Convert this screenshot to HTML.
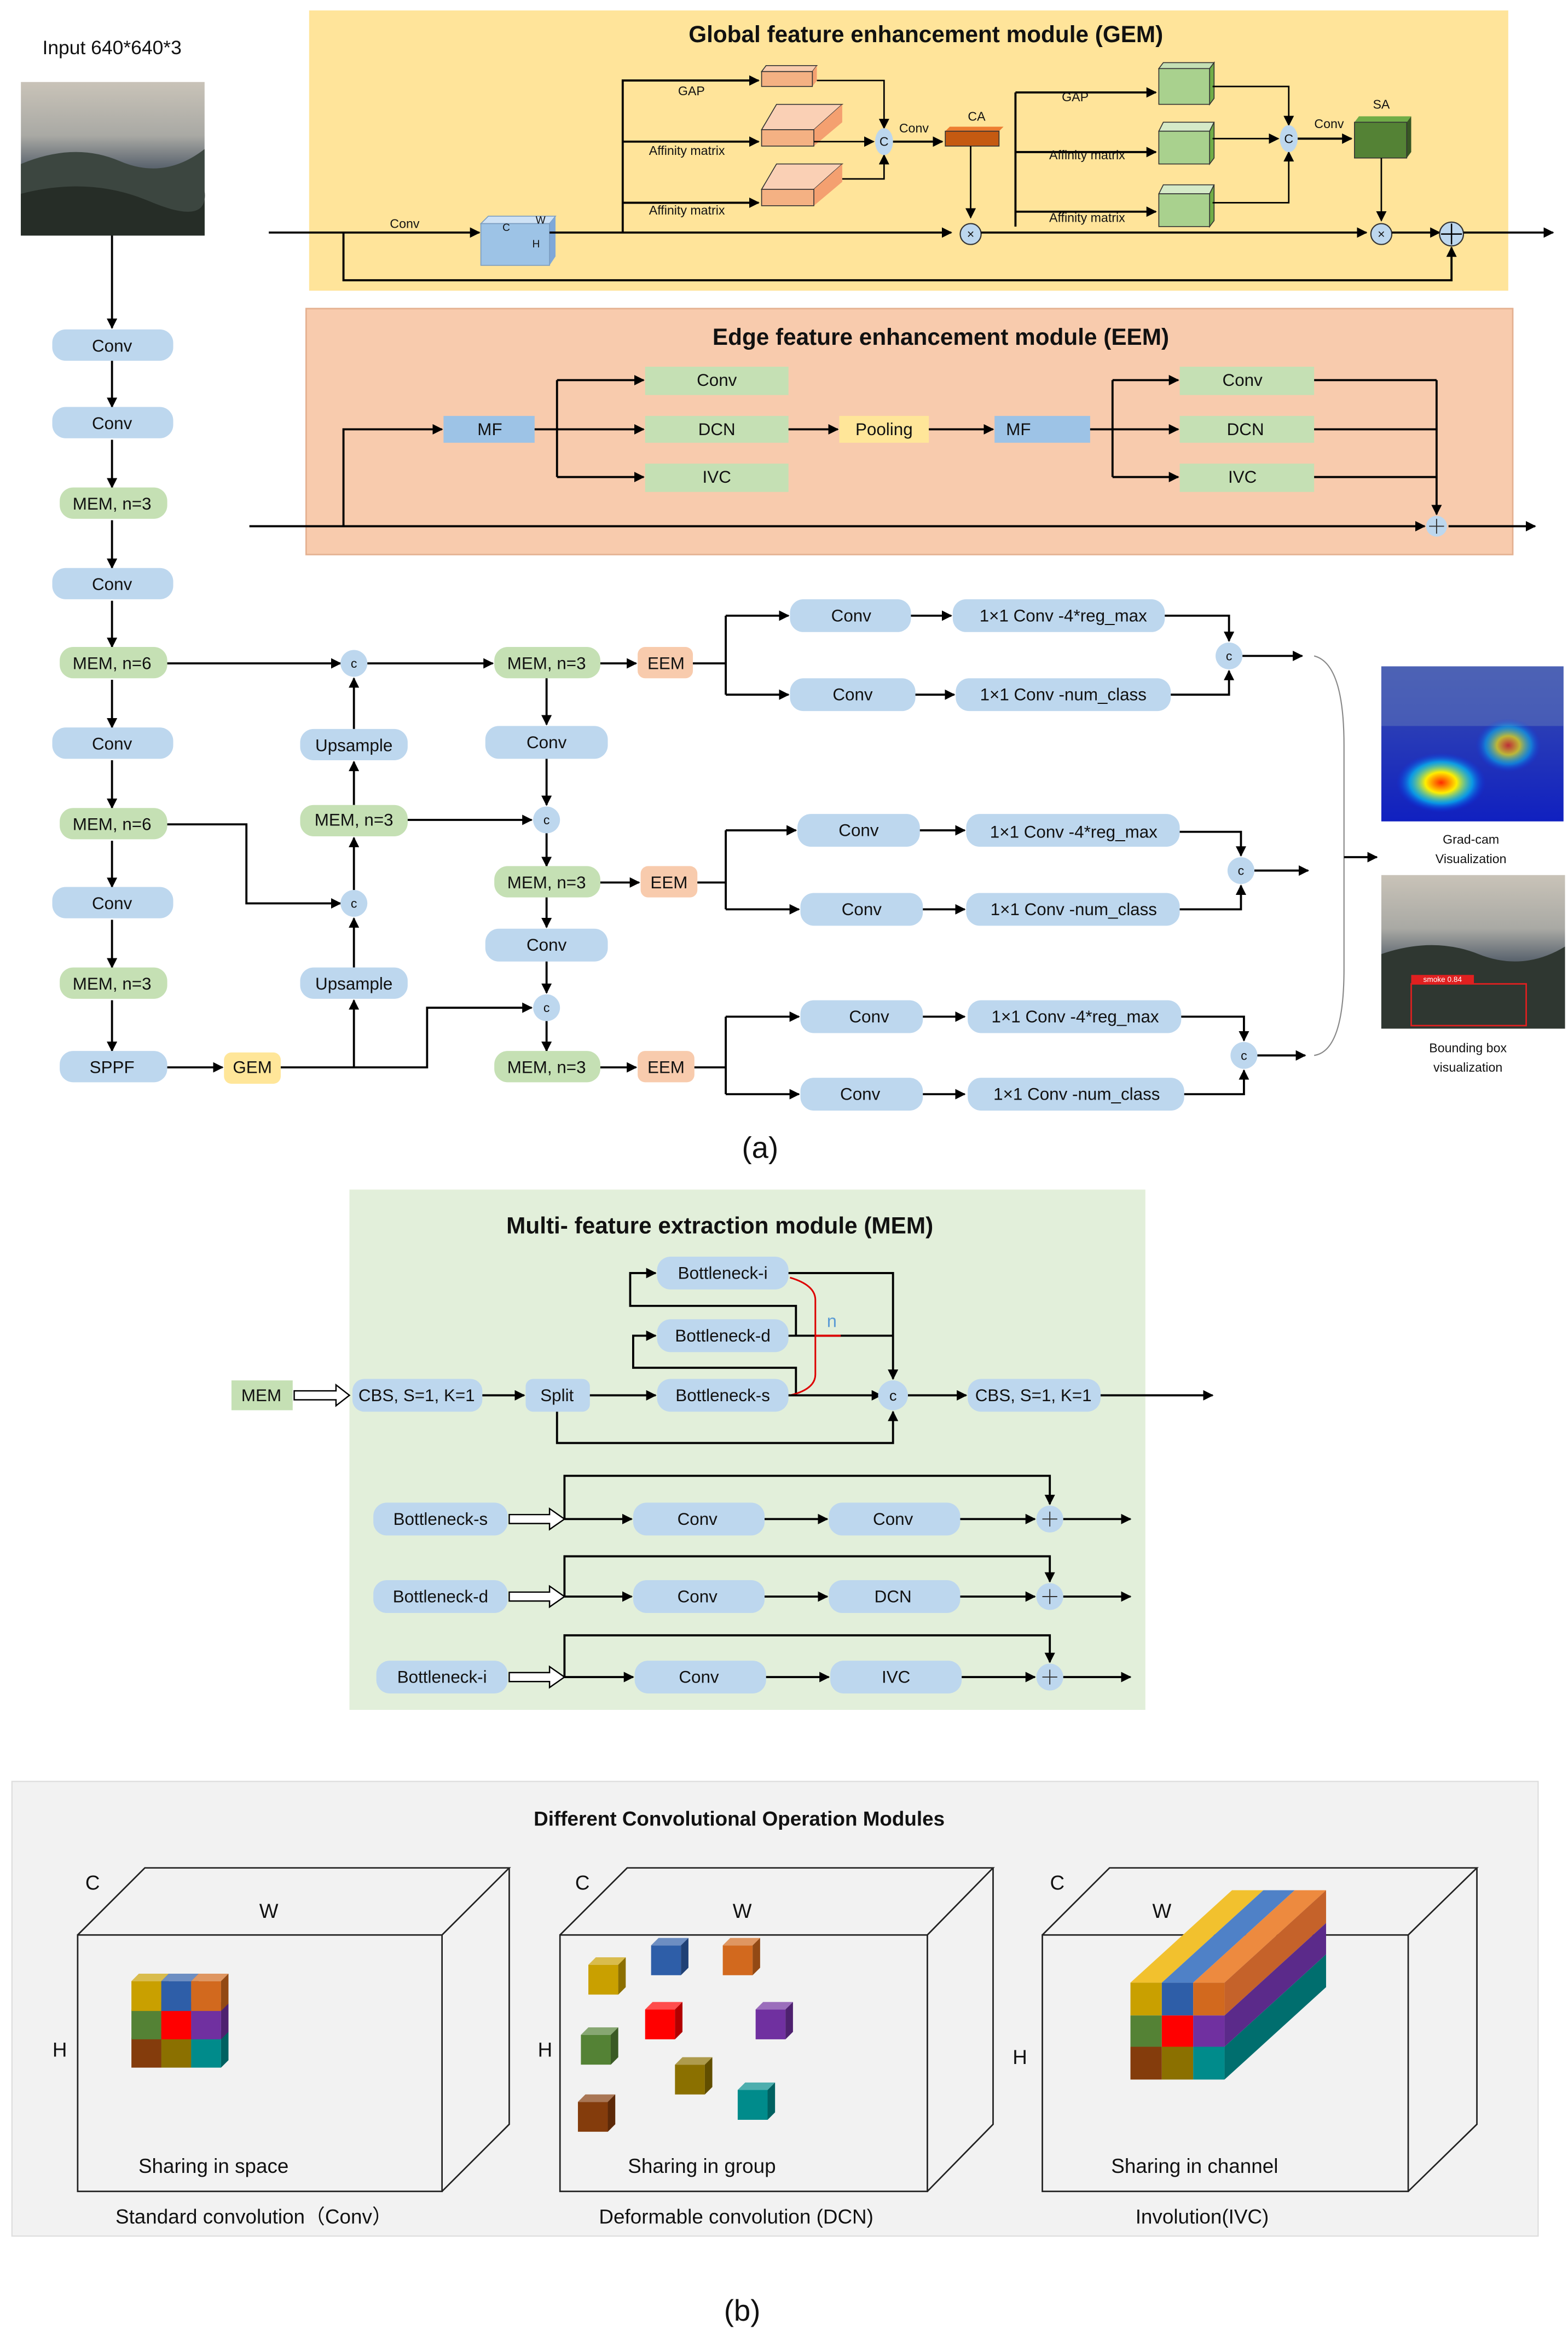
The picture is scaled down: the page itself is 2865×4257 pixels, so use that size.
<!DOCTYPE html>
<html><head><meta charset="utf-8"><style>
html,body{margin:0;padding:0;background:#fff}
svg{display:block}
text{font-family:"Liberation Sans",sans-serif;text-anchor:middle;dominant-baseline:central;fill:#111}
.b{fill:#BDD7EE}.g{fill:#C5E0B4}.o{fill:#F8CBAD}.y{fill:#FFE699}
.l{fill:none;stroke:#000;stroke-width:1.4}
.a{fill:none;stroke:#000;stroke-width:1.4;marker-end:url(#ar)}
.h{fill:none;stroke:#000;stroke-width:1;marker-end:url(#ar)}
.t{font-size:11.5px}.s{font-size:8.5px}.ti{font-size:15.5px;font-weight:bold}
</style></head><body>
<svg width="2865" height="4257" viewBox="0 0 1050 1563" preserveAspectRatio="none" xmlns="http://www.w3.org/2000/svg">
<defs>
<marker id="ar" viewBox="0 0 10 10" refX="9" refY="5" markerWidth="7" markerHeight="7" markerUnits="userSpaceOnUse" orient="auto"><path d="M0,0L10,5L0,10z" fill="#000"/></marker>
<g id="cube"><rect x="0" y="0" width="20" height="20" fill="currentColor"/><polygon points="0,0 5,-5 25,-5 20,0" fill="currentColor"/><polygon points="0,0 5,-5 25,-5 20,0" fill="#fff" opacity="0.3"/><polygon points="20,0 25,-5 25,15 20,20" fill="currentColor"/><polygon points="20,0 25,-5 25,15 20,20" fill="#000" opacity="0.3"/></g>
<linearGradient id="sky" x1="0" y1="0" x2="0" y2="1"><stop offset="0" stop-color="#c9c3b8"/><stop offset="0.35" stop-color="#a9a9a4"/><stop offset="0.55" stop-color="#5d6670"/><stop offset="1" stop-color="#2c332e"/></linearGradient>
<radialGradient id="heat"><stop offset="0" stop-color="#ff2a00"/><stop offset="0.35" stop-color="#ffee00"/><stop offset="0.7" stop-color="#00e0ff" stop-opacity="0.6"/><stop offset="1" stop-color="#0030ff" stop-opacity="0"/></radialGradient>
<linearGradient id="blu" x1="0" y1="0" x2="0" y2="1"><stop offset="0" stop-color="#3a4fb0"/><stop offset="1" stop-color="#1020c0"/></linearGradient>
</defs>

<text x="75" y="32" style="font-size:13px">Input 640*640*3</text>
<rect x="14" y="55" width="123" height="103" fill="url(#sky)"/>
<path d="M14,110 Q50,95 80,108 T137,100 L137,158 L14,158z" fill="#3c4640"/>
<path d="M14,130 Q60,118 100,135 T137,128 L137,158 L14,158z" fill="#262d27"/>

<rect x="207" y="7" width="803" height="188" fill="#FFE49A"/>
<text x="620" y="23" class="ti">Global feature enhancement module (GEM)</text>
<path class="a" d="M180,156 H321"/>
<text x="271" y="150" class="s">Conv</text>
<polygon points="322,150 327,145 372,145 368,150" fill="#cfe2f5" stroke="#7a9cc0" stroke-width="0.6"/>
<polygon points="368,150 372,145 372,172 368,178" fill="#7fa8d8"/>
<rect x="322" y="150" width="46" height="28" fill="#9DC3E6" stroke="#7a9cc0" stroke-width="0.6"/>
<text x="339" y="153" class="s" style="font-size:7px">C</text><text x="362" y="148" class="s" style="font-size:7px">W</text><text x="359" y="164" class="s" style="font-size:7px">H</text>
<path class="a" d="M368,156 H637"/>
<path class="a" d="M417,156 V54 H508"/>
<path class="a" d="M417,95 H508"/>
<path class="a" d="M417,136 H508"/>
<text x="463" y="61" class="s">GAP</text>
<text x="460" y="101" class="s">Affinity matrix</text>
<text x="460" y="141" class="s">Affinity matrix</text>
<polygon points="510,48 513,44 547,44 544,48" fill="#F8CBAD" stroke="#333" stroke-width="0.6"/><polygon points="544,48 547,44 547,54 544,58" fill="#F4A070"/><rect x="510" y="48" width="34" height="10" fill="#F4B183" stroke="#333" stroke-width="0.6"/>
<polygon points="510,87 520,70 564,70 545,87" fill="#FAD0B5" stroke="#333" stroke-width="0.6"/><polygon points="545,87 564,70 564,82 545,98" fill="#F4A070"/><rect x="510" y="87" width="35" height="11" fill="#F4B183" stroke="#333" stroke-width="0.6"/>
<polygon points="510,127 520,110 564,110 545,127" fill="#FAD0B5" stroke="#333" stroke-width="0.6"/><polygon points="545,127 564,110 564,122 545,138" fill="#F4A070"/><rect x="510" y="127" width="35" height="11" fill="#F4B183" stroke="#333" stroke-width="0.6"/>
<path class="h" d="M547,54 H592 V86"/>
<path class="h" d="M545,95 H585"/>
<path class="h" d="M564,120 H592 V104"/>
<ellipse cx="592" cy="95" rx="6" ry="9" fill="#BDD7EE"/><text x="592" y="95" class="s">C</text>
<text x="612" y="86" class="s">Conv</text>
<path class="a" d="M598,95 H631"/>
<text x="654" y="78" class="s">CA</text>
<polygon points="633,88 636,85 672,85 669,88" fill="#ED7D31"/><rect x="633" y="88" width="36" height="10" fill="#C55A11" stroke="#333" stroke-width="0.6"/>
<path class="h" d="M650,98 V146"/>
<circle cx="650" cy="157" r="7" fill="#BDD7EE" stroke="#333" stroke-width="0.8"/><text x="650" y="157" class="s">×</text>
<path class="a" d="M657,156 H915"/>
<path class="l" d="M680,152 V62"/>
<path class="a" d="M680,62 H774"/><path class="a" d="M680,102 H774"/><path class="a" d="M680,142 H774"/>
<text x="720" y="65" class="s">GAP</text>
<text x="728" y="104" class="s">Affinity matrix</text>
<text x="728" y="146" class="s">Affinity matrix</text>
<g stroke="#333" stroke-width="0.6">
<polygon points="776,46 779,42 813,42 810,46" fill="#C5E0B4"/><polygon points="810,46 813,42 813,66 810,70" fill="#70AD47"/><rect x="776" y="46" width="34" height="24" fill="#A9D18E"/>
<polygon points="776,88 779,82 813,82 810,88" fill="#D5EAC8"/><polygon points="810,88 813,82 813,106 810,110" fill="#70AD47"/><rect x="776" y="88" width="34" height="22" fill="#A9D18E"/>
<polygon points="776,130 779,124 813,124 810,130" fill="#D5EAC8"/><polygon points="810,130 813,124 813,148 810,152" fill="#70AD47"/><rect x="776" y="130" width="34" height="22" fill="#A9D18E"/>
</g>
<path class="h" d="M812,58 H863 V84"/>
<path class="h" d="M812,93 H856"/>
<path class="h" d="M812,136 H863 V102"/>
<ellipse cx="863" cy="93" rx="6" ry="9" fill="#BDD7EE"/><text x="863" y="93" class="s">C</text>
<text x="890" y="83" class="s">Conv</text>
<path class="a" d="M869,93 H905"/>
<text x="925" y="70" class="s">SA</text>
<polygon points="907,82 910,78 945,78 942,82" fill="#70AD47"/><polygon points="942,82 945,78 945,102 942,106" fill="#385723"/><rect x="907" y="82" width="35" height="24" fill="#548235" stroke="#333" stroke-width="0.6"/>
<path class="h" d="M925,106 V148"/>
<circle cx="925" cy="157" r="7" fill="#BDD7EE" stroke="#333" stroke-width="0.8"/><text x="925" y="157" class="s">×</text>
<path class="a" d="M932,156 H964"/>
<circle cx="972" cy="157" r="8" fill="#BDD7EE" stroke="#333" stroke-width="0.8"/><path d="M972,150V164M965,157H979" stroke="#000" stroke-width="0.9"/>
<path class="a" d="M980,156 H1040"/>
<path class="a" d="M230,156 V188 H972 V166"/>

<rect x="205" y="207" width="808" height="165" fill="#F8CBAD" stroke="#e4b090" stroke-width="1"/>
<text x="630" y="226" class="ti">Edge feature enhancement module (EEM)</text>
<path class="a" d="M167,353 H954"/>
<path class="a" d="M970,353 H1028"/>
<path class="a" d="M230,353 V288 H296"/>
<rect x="297" y="279" width="61" height="18" fill="#9DC3E6"/><text x="328" y="288" class="t">MF</text>
<path class="l" d="M358,288 H373 M373,255 V320"/>
<path class="a" d="M373,255 H431"/><path class="a" d="M373,288 H431"/><path class="a" d="M373,320 H431"/>
<rect x="432" y="246" width="96" height="19" class="g"/><text x="480" y="255" class="t">Conv</text>
<rect x="432" y="279" width="96" height="18" class="g"/><text x="480" y="288" class="t">DCN</text>
<rect x="432" y="311" width="96" height="19" class="g"/><text x="480" y="320" class="t">IVC</text>
<path class="a" d="M528,288 H561"/>
<rect x="562" y="279" width="60" height="18" class="y"/><text x="592" y="288" class="t">Pooling</text>
<path class="a" d="M622,288 H665"/>
<rect x="666" y="279" width="64" height="18" fill="#9DC3E6"/><text x="682" y="288" class="t">MF</text>
<path class="l" d="M730,288 H745 M745,255 V320"/>
<path class="a" d="M745,255 H789"/><path class="a" d="M745,288 H789"/><path class="a" d="M745,320 H789"/>
<rect x="790" y="246" width="90" height="19" class="g"/><text x="832" y="255" class="t">Conv</text>
<rect x="790" y="279" width="90" height="18" class="g"/><text x="834" y="288" class="t">DCN</text>
<rect x="790" y="311" width="90" height="19" class="g"/><text x="832" y="320" class="t">IVC</text>
<path class="l" d="M880,255 H962 M880,288 H962 M880,320 H962"/>
<path class="a" d="M962,255 V345"/>
<circle cx="962" cy="353" r="7" fill="#BDD7EE"/><path d="M962,348V358M957,353H967" stroke="#333" stroke-width="0.7"/>

<path class="a" d="M75,158 V220"/>
<path class="a" d="M75,242 V273"/>
<path class="a" d="M75,295 V327"/>
<path class="a" d="M75,349 V381"/>
<path class="a" d="M75,403 V434"/>
<path class="a" d="M75,456 V488"/>
<path class="a" d="M75,510 V542"/>
<path class="a" d="M75,564 V595"/>
<path class="a" d="M75,617 V649"/>
<path class="a" d="M75,671 V705"/>
<rect x="35" y="221" width="81" height="21" rx="9" class="b"/><text x="75" y="232" class="t">Conv</text>
<rect x="35" y="273" width="81" height="21" rx="9" class="b"/><text x="75" y="284" class="t">Conv</text>
<rect x="40" y="327" width="72" height="21" rx="9" class="g"/><text x="75" y="338" class="t">MEM, n=3</text>
<rect x="35" y="381" width="81" height="21" rx="9" class="b"/><text x="75" y="392" class="t">Conv</text>
<rect x="40" y="434" width="72" height="21" rx="9" class="g"/><text x="75" y="445" class="t">MEM, n=6</text>
<rect x="35" y="488" width="81" height="21" rx="9" class="b"/><text x="75" y="499" class="t">Conv</text>
<rect x="40" y="542" width="72" height="21" rx="9" class="g"/><text x="75" y="553" class="t">MEM, n=6</text>
<rect x="35" y="595" width="81" height="21" rx="9" class="b"/><text x="75" y="606" class="t">Conv</text>
<rect x="40" y="649" width="72" height="21" rx="9" class="g"/><text x="75" y="660" class="t">MEM, n=3</text>
<rect x="40" y="705" width="72" height="21" rx="9" class="b"/><text x="75" y="716" class="t">SPPF</text>
<path class="a" d="M112,716 H149"/>
<rect x="150" y="706" width="38" height="21" rx="5" class="y"/><text x="169" y="716" class="t">GEM</text>

<path class="a" d="M112,445 H228"/>
<path class="a" d="M112,553 H165 V606 H228"/>
<path class="a" d="M188,716 H237 V671"/>
<path class="a" d="M237,649 V616"/>
<path class="a" d="M237,597 V562"/>
<path class="a" d="M237,540 V511"/>
<path class="a" d="M237,489 V455"/>
<circle cx="237" cy="445" r="9" fill="#BDD7EE"/><text x="237" y="445" class="s">c</text>
<rect x="201" y="489" width="72" height="21" rx="9" class="b"/><text x="237" y="500" class="t">Upsample</text>
<rect x="201" y="540" width="72" height="21" rx="9" class="g"/><text x="237" y="550" class="t">MEM, n=3</text>
<circle cx="237" cy="606" r="9" fill="#BDD7EE"/><text x="237" y="606" class="s">c</text>
<rect x="201" y="649" width="72" height="21" rx="9" class="b"/><text x="237" y="660" class="t">Upsample</text>
<path class="a" d="M246,445 H330"/>
<path class="a" d="M273,550 H356"/>
<path class="a" d="M237,716 H286 V676 H356"/>
<rect x="331" y="434" width="71" height="21" rx="9" class="g"/><text x="366" y="445" class="t">MEM, n=3</text>
<rect x="427" y="434" width="37" height="21" rx="5" class="o"/><text x="446" y="445" class="t">EEM</text>
<path class="a" d="M402,445 H426"/>
<path class="a" d="M366,455 V486"/>
<rect x="325" y="487" width="82" height="22" rx="9" class="b"/><text x="366" y="498" class="t">Conv</text>
<path class="a" d="M366,509 V540"/>
<circle cx="366" cy="550" r="9" fill="#BDD7EE"/><text x="366" y="550" class="s">c</text>
<path class="a" d="M366,559 V581"/>
<rect x="331" y="581" width="71" height="21" rx="9" class="g"/><text x="366" y="592" class="t">MEM, n=3</text>
<path class="a" d="M402,592 H428"/>
<rect x="429" y="581" width="38" height="21" rx="5" class="o"/><text x="448" y="592" class="t">EEM</text>
<path class="a" d="M366,602 V622"/>
<rect x="325" y="623" width="82" height="22" rx="9" class="b"/><text x="366" y="634" class="t">Conv</text>
<path class="a" d="M366,645 V666"/>
<circle cx="366" cy="676" r="9" fill="#BDD7EE"/><text x="366" y="676" class="s">c</text>
<path class="a" d="M366,685 V705"/>
<rect x="331" y="705" width="71" height="21" rx="9" class="g"/><text x="366" y="716" class="t">MEM, n=3</text>
<path class="a" d="M402,716 H426"/>
<rect x="427" y="705" width="38" height="21" rx="5" class="o"/><text x="446" y="716" class="t">EEM</text>

<path class="l" d="M464,445 H486 M486,413 V466 M467,592 H486 M486,557 V610 M465,716 H486 M486,682 V734"/>
<path class="a" d="M486,413 H528"/><path class="a" d="M486,466 H528"/>
<path class="a" d="M486,557 H533"/><path class="a" d="M486,610 H535"/>
<path class="a" d="M486,682 H535"/><path class="a" d="M486,734 H535"/>
<rect x="529" y="402" width="81" height="22" rx="9" class="b"/><text x="570" y="413" class="t">Conv</text>
<rect x="529" y="455" width="84" height="22" rx="9" class="b"/><text x="571" y="466" class="t">Conv</text>
<rect x="534" y="546" width="82" height="22" rx="9" class="b"/><text x="575" y="557" class="t">Conv</text>
<rect x="536" y="599" width="82" height="22" rx="9" class="b"/><text x="577" y="610" class="t">Conv</text>
<rect x="536" y="671" width="82" height="22" rx="9" class="b"/><text x="582" y="682" class="t">Conv</text>
<rect x="536" y="723" width="82" height="22" rx="9" class="b"/><text x="576" y="734" class="t">Conv</text>
<path class="a" d="M610,413 H637"/><path class="a" d="M613,466 H639"/>
<path class="a" d="M616,557 H646"/><path class="a" d="M618,610 H646"/>
<path class="a" d="M618,682 H646"/><path class="a" d="M618,734 H646"/>
<rect x="638" y="402" width="142" height="22" rx="9" class="b"/><text x="712" y="413" class="t">1×1 Conv -4*reg_max</text>
<rect x="640" y="455" width="144" height="22" rx="9" class="b"/><text x="712" y="466" class="t">1×1 Conv -num_class</text>
<rect x="647" y="546" width="143" height="22" rx="9" class="b"/><text x="719" y="558" class="t">1×1 Conv -4*reg_max</text>
<rect x="647" y="599" width="143" height="22" rx="9" class="b"/><text x="719" y="610" class="t">1×1 Conv -num_class</text>
<rect x="648" y="671" width="143" height="22" rx="9" class="b"/><text x="720" y="682" class="t">1×1 Conv -4*reg_max</text>
<rect x="648" y="723" width="145" height="22" rx="9" class="b"/><text x="721" y="734" class="t">1×1 Conv -num_class</text>
<path class="a" d="M780,413 H823 V430"/><path class="a" d="M784,466 H823 V450"/>
<path class="a" d="M790,558 H831 V574"/><path class="a" d="M790,610 H831 V594"/>
<path class="a" d="M791,682 H833 V698"/><path class="a" d="M793,734 H833 V718"/>
<circle cx="823" cy="440" r="9" fill="#BDD7EE"/><text x="823" y="440" class="s">c</text>
<circle cx="831" cy="584" r="9" fill="#BDD7EE"/><text x="831" y="584" class="s">c</text>
<circle cx="833" cy="708" r="9" fill="#BDD7EE"/><text x="833" y="708" class="s">c</text>
<path class="a" d="M832,440 H872"/><path class="a" d="M840,584 H876"/><path class="a" d="M842,708 H874"/>
<path d="M880,440 Q900,445 900,500 V650 Q900,705 880,708" fill="none" stroke="#888" stroke-width="0.8"/>
<path class="a" d="M900,575 H922"/>
<rect x="925" y="447" width="122" height="104" fill="url(#blu)"/>
<rect x="925" y="447" width="122" height="40" fill="#5a6fb8" opacity="0.6"/>
<ellipse cx="965" cy="525" rx="30" ry="20" fill="url(#heat)"/>
<ellipse cx="1010" cy="500" rx="22" ry="18" fill="url(#heat)" opacity="0.7"/>
<text x="985" y="563" class="s">Grad-cam</text><text x="985" y="576" class="s">Visualization</text>
<rect x="925" y="587" width="123" height="103" fill="url(#sky)"/>
<path d="M925,640 Q960,628 990,640 T1048,635 L1048,690 L925,690z" fill="#2f3731"/>
<rect x="945" y="660" width="77" height="28" fill="none" stroke="#e02020" stroke-width="1"/>
<rect x="945" y="654" width="42" height="6" fill="#e02020"/><text x="966" y="657" style="font-size:5px;fill:#fff">smoke 0.84</text>
<text x="983" y="703" class="s">Bounding box</text><text x="983" y="716" class="s">visualization</text>
<text x="509" y="770" style="font-size:20px">(a)</text>

<rect x="234" y="798" width="533" height="349" fill="#E2EFDA"/>
<text x="482" y="822" class="ti">Multi- feature extraction module (MEM)</text>
<rect x="155" y="926" width="41" height="20" class="g"/><text x="175" y="936" class="t">MEM</text>
<path d="M197,933 H225 V929 L234,936 L225,943 V939 H197z" fill="#fff" stroke="#000" stroke-width="0.9"/>
<rect x="236" y="925" width="87" height="22" rx="8" class="b"/><text x="279" y="936" class="t">CBS, S=1, K=1</text>
<path class="a" d="M323,936 H351"/>
<rect x="352" y="925" width="43" height="22" rx="5" class="b"/><text x="373" y="936" class="t">Split</text>
<path class="a" d="M395,936 H439"/>
<rect x="440" y="925" width="88" height="22" rx="9" class="b"/><text x="484" y="936" class="t">Bottleneck-s</text>
<rect x="440" y="885" width="88" height="22" rx="9" class="b"/><text x="484" y="896" class="t">Bottleneck-d</text>
<rect x="440" y="843" width="88" height="22" rx="9" class="b"/><text x="484" y="854" class="t">Bottleneck-i</text>
<path class="a" d="M533,936 V917.5 H424 V896 H439"/>
<path class="a" d="M533,896 V876 H422 V854 H439"/>
<path class="l" d="M528,896 H598"/>
<path class="a" d="M528,854 H598 V925"/>
<path d="M529,857 Q546,862 546,872 V922 Q546,932 529,936" fill="none" stroke="#d00" stroke-width="1.1"/>
<path d="M546,896 H563" stroke="#d00" stroke-width="1.4"/>
<text x="557" y="886" style="font-size:12px;fill:#5b9bd5">n</text>
<path class="a" d="M528,936 H590"/>
<path class="a" d="M373,947 V968 H598 V947"/>
<ellipse cx="598" cy="936" rx="10" ry="10" fill="#BDD7EE"/><text x="598" y="936" class="s" style="font-size:10px">c</text>
<path class="a" d="M608,936 H647"/>
<rect x="648" y="925" width="89" height="22" rx="9" class="b"/><text x="692" y="936" class="t">CBS, S=1, K=1</text>
<path class="a" d="M737,936 H812"/>

<g>
<rect x="250" y="1008" width="90" height="22" rx="9" class="b"/><text x="295" y="1019" class="t">Bottleneck-s</text>
<path d="M341,1016 H368 V1012 L378,1019 L368,1026 V1022 H341z" fill="#fff" stroke="#000" stroke-width="0.9"/>
<path class="a" d="M378,1019 H423"/>
<rect x="424" y="1008" width="88" height="22" rx="9" class="b"/><text x="467" y="1019" class="t">Conv</text>
<path class="a" d="M512,1019 H554"/>
<rect x="555" y="1008" width="88" height="22" rx="9" class="b"/><text x="598" y="1019" class="t">Conv</text>
<path class="a" d="M643,1019 H693"/>
<circle cx="703" cy="1019" r="9" fill="#BDD7EE"/><path d="M703,1014V1024M698,1019H708" stroke="#333" stroke-width="0.7"/>
<path class="a" d="M378,1019 V990 H703 V1009"/>
<path class="a" d="M712,1019 H757"/>
</g>
<g>
<rect x="250" y="1060" width="90" height="22" rx="9" class="b"/><text x="295" y="1071" class="t">Bottleneck-d</text>
<path d="M341,1068 H368 V1064 L378,1071 L368,1078 V1074 H341z" fill="#fff" stroke="#000" stroke-width="0.9"/>
<path class="a" d="M378,1071 H423"/>
<rect x="424" y="1060" width="88" height="22" rx="9" class="b"/><text x="467" y="1071" class="t">Conv</text>
<path class="a" d="M512,1071 H554"/>
<rect x="555" y="1060" width="88" height="22" rx="9" class="b"/><text x="598" y="1071" class="t">DCN</text>
<path class="a" d="M643,1071 H693"/>
<circle cx="703" cy="1071" r="9" fill="#BDD7EE"/><path d="M703,1066V1076M698,1071H708" stroke="#333" stroke-width="0.7"/>
<path class="a" d="M378,1071 V1044 H703 V1061"/>
<path class="a" d="M712,1071 H757"/>
</g>
<g>
<rect x="252" y="1114" width="88" height="22" rx="9" class="b"/><text x="296" y="1125" class="t">Bottleneck-i</text>
<path d="M341,1122 H368 V1118 L378,1125 L368,1132 V1128 H341z" fill="#fff" stroke="#000" stroke-width="0.9"/>
<path class="a" d="M378,1125 H424"/>
<rect x="425" y="1114" width="88" height="22" rx="9" class="b"/><text x="468" y="1125" class="t">Conv</text>
<path class="a" d="M513,1125 H555"/>
<rect x="556" y="1114" width="88" height="22" rx="9" class="b"/><text x="600" y="1125" class="t">IVC</text>
<path class="a" d="M644,1125 H693"/>
<circle cx="703" cy="1125" r="9" fill="#BDD7EE"/><path d="M703,1120V1130M698,1125H708" stroke="#333" stroke-width="0.7"/>
<path class="a" d="M378,1125 V1097 H703 V1115"/>
<path class="a" d="M712,1125 H757"/>
</g>

<rect x="8" y="1195" width="1022" height="305" fill="#F2F2F2" stroke="#ddd" stroke-width="0.8"/>
<text x="495" y="1220" style="font-size:13.5px;font-weight:bold">Different Convolutional Operation Modules</text>
<g fill="none" stroke="#222" stroke-width="1">
<path d="M52,1298 H296 V1470 H52z M52,1298 L97,1253 H341 L296,1298 M341,1253 V1425 L296,1470"/>
<path d="M375,1298 H621 V1470 H375z M375,1298 L420,1253 H665 L621,1298 M665,1253 V1425 L621,1470"/>
<path d="M698,1298 H943 V1470 H698z M698,1298 L743,1253 H989 L943,1298 M989,1253 V1425 L943,1470"/>
</g>
<g style="font-size:13.5px">
<text x="62" y="1263">C</text><text x="180" y="1282">W</text><text x="40" y="1375">H</text>
<text x="143" y="1453">Sharing in space</text><text x="170" y="1487">Standard convolution（Conv）</text>
<text x="390" y="1263">C</text><text x="497" y="1282">W</text><text x="365" y="1375">H</text>
<text x="470" y="1453">Sharing in group</text><text x="493" y="1487">Deformable convolution (DCN)</text>
<text x="708" y="1263">C</text><text x="778" y="1282">W</text><text x="683" y="1380">H</text>
<text x="800" y="1453">Sharing in channel</text><text x="805" y="1487">Involution(IVC)</text>
</g>
<use href="#cube" color="#843C0C" transform="translate(88,1367)"/>
<use href="#cube" color="#8B7000" transform="translate(108,1367)"/>
<use href="#cube" color="#008B8B" transform="translate(128,1367)"/>
<use href="#cube" color="#548235" transform="translate(88,1348)"/>
<use href="#cube" color="#FF0000" transform="translate(108,1348)"/>
<use href="#cube" color="#7030A0" transform="translate(128,1348)"/>
<use href="#cube" color="#C9A000" transform="translate(88,1329)"/>
<use href="#cube" color="#2E5EA8" transform="translate(108,1329)"/>
<use href="#cube" color="#D2691E" transform="translate(128,1329)"/>
<use href="#cube" color="#C9A000" transform="translate(394,1318)"/>
<use href="#cube" color="#2E5EA8" transform="translate(436,1305)"/>
<use href="#cube" color="#D2691E" transform="translate(484,1305)"/>
<use href="#cube" color="#548235" transform="translate(389,1365)"/>
<use href="#cube" color="#FF0000" transform="translate(432,1348)"/>
<use href="#cube" color="#7030A0" transform="translate(506,1348)"/>
<use href="#cube" color="#8B7000" transform="translate(452,1385)"/>
<use href="#cube" color="#008B8B" transform="translate(494,1402)"/>
<use href="#cube" color="#843C0C" transform="translate(387,1410)"/>
<polygon points="757,1330 778,1330 846,1268 825,1268" fill="#F2C12E"/>
<polygon points="778,1330 799,1330 867,1268 846,1268" fill="#4F81C7"/>
<polygon points="799,1330 820,1330 888,1268 867,1268" fill="#ED8A3F"/>
<polygon points="820,1330 888,1268 888,1290 820,1352" fill="#C5622A"/>
<polygon points="820,1352 888,1290 888,1311 820,1373" fill="#5B2A8A"/>
<polygon points="820,1373 888,1311 888,1333 820,1395" fill="#006E6E"/>
<rect x="757" y="1330" width="21" height="22" fill="#C9A000"/><rect x="778" y="1330" width="21" height="22" fill="#2E5EA8"/><rect x="799" y="1330" width="21" height="22" fill="#D2691E"/>
<rect x="757" y="1352" width="21" height="21" fill="#548235"/><rect x="778" y="1352" width="21" height="21" fill="#FF0000"/><rect x="799" y="1352" width="21" height="21" fill="#7030A0"/>
<rect x="757" y="1373" width="21" height="22" fill="#843C0C"/><rect x="778" y="1373" width="21" height="22" fill="#8B7000"/><rect x="799" y="1373" width="21" height="22" fill="#008B8B"/>
<text x="497" y="1550" style="font-size:20px">(b)</text>
</svg>
</body></html>
